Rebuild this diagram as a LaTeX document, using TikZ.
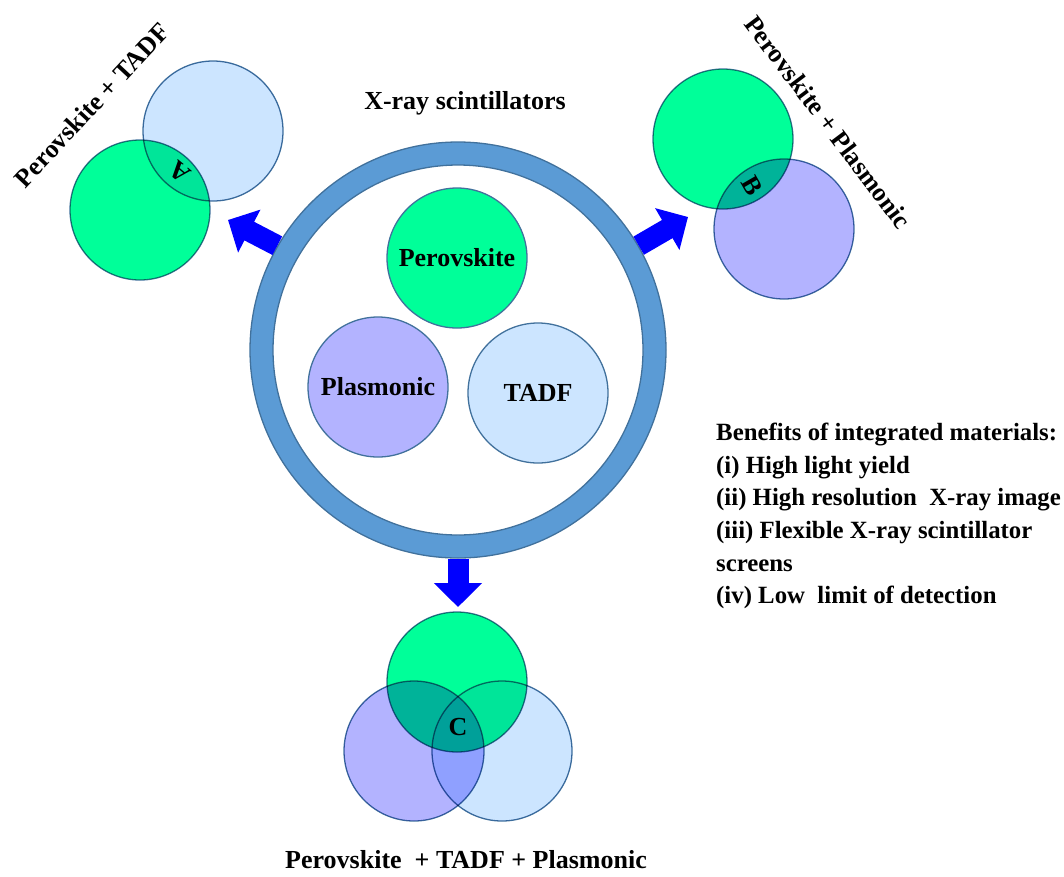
\documentclass[tikz,border=0pt]{standalone}
\usepackage{fontspec}
\setmainfont{Liberation Serif}
\usetikzlibrary{arrows.meta}
\definecolor{pgreen}{RGB}{0,255,153}
\definecolor{pblue}{RGB}{204,229,255}
\definecolor{ppurple}{RGB}{179,179,255}
\definecolor{cedge}{RGB}{65,113,156}
\definecolor{ringblue}{RGB}{91,155,213}
\tikzset{
	disc/.style={circle,draw=cedge,line width=1.3pt,minimum size=140pt,inner sep=0pt},
	bigarrow/.style={line width=21pt,draw={rgb,255:red,0;green,0;blue,255},-{Triangle[length=24pt,width=47pt]}},
	lbl/.style={font=\fontsize{26}{32.6}\selectfont\bfseries}
}
\begin{document}
	\begin{tikzpicture}[x=1pt,y=-1pt,lbl]
		\useasboundingbox (0,0) rectangle (1064,876);
		\node [circle,draw=cedge,fill=ringblue,line width=1.3pt,minimum size=416pt,inner sep=0pt] (ring) at (458,350) {};
		\node [circle,draw=cedge,fill=white,line width=1.3pt,minimum size=370pt,inner sep=0pt] (core) at (458,350) {};
		\node (title) at (465,103) {X-ray scintillators};
		\node [disc,fill=pgreen] (perov) at (457,258) {Perovskite};
		\node [disc,fill=ppurple] (plasm) at (378,387) {Plasmonic};
		\node [disc,fill=pblue] (tadf) at (538,393) {TADF};
		\coordinate (tipA) at (228,220);
		\coordinate (tipB) at (688,217);
		\coordinate (tipC) at (458,607);
		\draw [bigarrow] (ring.150) -- (tipA);
		\draw [bigarrow] (ring.30) -- (tipB);
		\draw [bigarrow] (ring.south) -- (tipC);
		\begin{scope}[blend mode=multiply]
			\node [disc,fill=pblue] (aTadf) at (213,131) {};
			\node [disc,fill=pgreen] (aPerov) at (140,210) {};
			\node [disc,fill=pgreen] (bPerov) at (723,139) {};
			\node [disc,fill=ppurple] (bPlasm) at (784,229) {};
			\node [disc,fill=pgreen] (cPerov) at (457,682) {};
			\node [disc,fill=ppurple] (cPlasm) at (414,751) {};
			\node [disc,fill=pblue] (cTadf) at (502,751) {};
		\end{scope}
		\node [rotate=140] (labA) at (180,172) {A};
		\node [rotate=-60] (labB) at (752,186) {B};
		\node (labC) at (458,727) {C};
		\node [rotate=47] (capA) at (92,105) {Perovskite + TADF};
		\node [rotate=-53] (capB) at (828,122) {Perovskite + Plasmonic};
		\node (capC) at (466,860) {Perovskite\ \ + TADF + Plasmonic};
		\node [anchor=north west,align=left,inner sep=0pt,font=\fontsize{24.8}{32.6}\selectfont\bfseries] (benefits) at (716,423) {Benefits of integrated materials:\\(i) High light yield\\(ii) High resolution\ \ X-ray image\\(iii) Flexible X-ray scintillator\\screens\\(iv) Low\ \ limit of detection};
	\end{tikzpicture}
\end{document}
